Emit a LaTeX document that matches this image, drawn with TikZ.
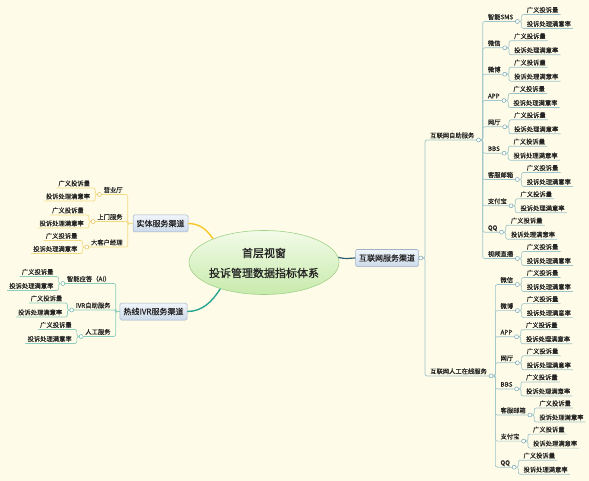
\documentclass[tikz,border=0pt]{standalone}
\usepackage{fontspec}
\setmainfont{Noto Sans CJK SC}
\newfontfamily\cjkbold[FakeBold=1]{Noto Sans CJK SC}
\newfontfamily\cjkmed[FakeBold=0.4]{Noto Sans CJK SC}
\usetikzlibrary{shapes.geometric}
\definecolor{bg}{RGB}{254,252,232}
\definecolor{txt}{RGB}{35,35,35}
\definecolor{ylwD}{RGB}{244,200,40}
\definecolor{ylwL}{RGB}{242,218,130}
\definecolor{ylwK}{RGB}{228,190,80}
\definecolor{tealD}{RGB}{40,165,145}
\definecolor{tealL}{RGB}{140,205,190}
\definecolor{tealK}{RGB}{100,185,165}
\definecolor{bluD}{RGB}{45,95,110}
\definecolor{bluL}{RGB}{160,198,204}
\definecolor{bluK}{RGB}{115,165,175}
\definecolor{boxB}{RGB}{160,178,200}
\definecolor{boxT}{RGB}{240,245,251}
\definecolor{boxM}{RGB}{205,218,234}
\definecolor{elT}{RGB}{242,251,232}
\definecolor{elB}{RGB}{200,234,172}
\definecolor{elD}{RGB}{160,210,135}
% right-hand child: name, parent point, spine coordinate, underline y, text, line style
\newcommand\rnode[6]{%
  \node[itm, anchor=south west, xshift=3pt] (#1) at (#3 |- 0,#4) {#5};
  \draw[#6] (#2) -| (#3 |- #1.south) -- (#1.south east);
}
\newcommand\rknob[2]{%
  \node[knob, draw=#2] (#1k) at ([xshift=2pt]#1.south east) {};
  \coordinate (#1s) at ([xshift=2pt]#1k.east);
}
\newcommand\rleaves[4]{%
  \rnode{#1a}{#1k.east}{#1s}{#2}{广义投诉量}{#4}
  \rnode{#1b}{#1k.east}{#1s}{#3}{投诉处理满意率}{#4}
}
% left-hand child
\newcommand\lnode[6]{%
  \node[itm, anchor=south east, xshift=-3pt] (#1) at (#3 |- 0,#4) {#5};
  \draw[#6] (#2) -| (#3 |- #1.south) -- (#1.south west);
}
\newcommand\lknob[2]{%
  \node[knob, draw=#2] (#1k) at ([xshift=-2pt]#1.south west) {};
  \coordinate (#1s) at ([xshift=-2pt]#1k.west);
}
\newcommand\lleaves[4]{%
  \lnode{#1a}{#1k.west}{#1s}{#2}{广义投诉量}{#4}
  \lnode{#1b}{#1k.west}{#1s}{#3}{投诉处理满意率}{#4}
}
\begin{document}
\begin{tikzpicture}[x=1pt,y=-1pt,
  itm/.style={font=\fontsize{6.3}{7}\selectfont\cjkmed, text=txt, inner xsep=2pt, inner ysep=1pt, text height=5pt, text depth=1pt},
  knob/.style={circle, fill=white, line width=0.5pt, inner sep=0pt, minimum size=4pt},
  yl/.style={draw=ylwL, line width=0.7pt, rounded corners=2pt},
  tl/.style={draw=tealL, line width=0.7pt, rounded corners=2pt},
  bl/.style={draw=bluL, line width=0.7pt, rounded corners=2pt},
  chan/.style={draw=boxB, line width=0.5pt, top color=boxT, bottom color=boxM, rounded corners=1.5pt, inner xsep=3.5pt, inner ysep=0pt, minimum height=17pt, font=\fontsize{8}{9}\selectfont\cjkmed, text=txt},
]
\fill[bg] (0,0) rectangle (589,481);
\useasboundingbox (0,0) rectangle (589,481);

% central topic
\node[ellipse, draw=elD, line width=0.6pt, top color=elT, bottom color=elB, minimum width=150pt, minimum height=64pt, inner sep=0pt] (c) at (264,262.5) {};
\node[font=\fontsize{11}{20}\selectfont\cjkbold, align=center, text=txt] (ct) at (264,263) {首层视窗\\投诉管理数据指标体系};

% main branches
\node[chan] (st) at (160.5,223.5) {实体服务渠道};
\node[chan] (hx) at (153.5,311.5) {热线IVR服务渠道};
\node[chan] (net) at (387,258) {互联网服务渠道};
\draw[draw=ylwD, line width=1.4pt] (c.155) .. controls (207,230) and (200,223.5) .. (st.east);
\draw[draw=tealD, line width=1.4pt] (c.211) .. controls (212,302) and (202,311.5) .. (hx.east);
\draw[draw=bluD, line width=1.2pt] (c.4) .. controls (346,259.5) and (350,258) .. (net.west);

% ===== 实体服务渠道 =====
\coordinate (sts) at ([xshift=-5pt]st.west);
\lnode{ya}{st.west}{sts}{194.5}{营业厅}{yl}\lknob{ya}{ylwK}
\lnode{yb}{st.west}{sts}{221.5}{上门服务}{yl}\lknob{yb}{ylwK}
\lnode{yc}{st.west}{sts}{247}{大客户经理}{yl}\lknob{yc}{ylwK}
\lleaves{ya}{188}{201}{yl}
\lleaves{yb}{215}{228}{yl}
\lleaves{yc}{240.5}{253.5}{yl}

% ===== 热线IVR服务渠道 =====
\coordinate (hxs) at ([xshift=-4pt]hx.west);
\lnode{ha}{hx.west}{hxs}{283.5}{智能应答（AI）}{tl}\lknob{ha}{tealK}
\lnode{hb}{hx.west}{hxs}{310}{IVR自助服务}{tl}\lknob{hb}{tealK}
\lnode{hc}{hx.west}{hxs}{336.5}{人工服务}{tl}\lknob{hc}{tealK}
\lleaves{ha}{276.5}{290.5}{tl}
\lleaves{hb}{303}{317}{tl}
\lleaves{hc}{329.5}{343.5}{tl}

% ===== 互联网服务渠道 =====
\node[knob, draw=bluK] (netk) at ([xshift=2pt]net.east) {};
\coordinate (nets) at ([xshift=2pt]netk.east);
\rnode{self}{netk.east}{nets}{140}{互联网自助服务}{bl}\rknob{self}{bluK}
\rnode{man}{netk.east}{nets}{375.9}{互联网人工在线服务}{bl}\rknob{man}{bluK}

\rnode{sa}{selfk.east}{selfs}{21.5}{智能SMS}{bl}\rknob{sa}{bluK}\rleaves{sa}{14.5}{28.5}{bl}
\rnode{sb}{selfk.east}{selfs}{47.8}{微信}{bl}\rknob{sb}{bluK}\rleaves{sb}{40.8}{54.8}{bl}
\rnode{sc}{selfk.east}{selfs}{74.2}{微博}{bl}\rknob{sc}{bluK}\rleaves{sc}{67.2}{81.2}{bl}
\rnode{sd}{selfk.east}{selfs}{100.5}{APP}{bl}\rknob{sd}{bluK}\rleaves{sd}{93.5}{107.5}{bl}
\rnode{se}{selfk.east}{selfs}{126.8}{网厅}{bl}\rknob{se}{bluK}\rleaves{se}{119.8}{133.8}{bl}
\rnode{sf}{selfk.east}{selfs}{153.2}{BBS}{bl}\rknob{sf}{bluK}\rleaves{sf}{146.2}{160.2}{bl}
\rnode{sg}{selfk.east}{selfs}{179.5}{客服邮箱}{bl}\rknob{sg}{bluK}\rleaves{sg}{172.5}{186.5}{bl}
\rnode{sh}{selfk.east}{selfs}{205.8}{支付宝}{bl}\rknob{sh}{bluK}\rleaves{sh}{198.8}{212.8}{bl}
\rnode{si}{selfk.east}{selfs}{232.2}{QQ}{bl}\rknob{si}{bluK}\rleaves{si}{225.2}{239.2}{bl}
\rnode{sj}{selfk.east}{selfs}{258.5}{视频直播}{bl}\rknob{sj}{bluK}\rleaves{sj}{251.5}{265.5}{bl}

\rnode{ma}{mank.east}{mans}{284.5}{微信}{bl}\rknob{ma}{bluK}\rleaves{ma}{277.5}{291.5}{bl}
\rnode{mb}{mank.east}{mans}{310.6}{微博}{bl}\rknob{mb}{bluK}\rleaves{mb}{303.6}{317.6}{bl}
\rnode{mc}{mank.east}{mans}{336.7}{APP}{bl}\rknob{mc}{bluK}\rleaves{mc}{329.7}{343.7}{bl}
\rnode{md}{mank.east}{mans}{362.8}{网厅}{bl}\rknob{md}{bluK}\rleaves{md}{355.8}{369.8}{bl}
\rnode{me}{mank.east}{mans}{388.9}{BBS}{bl}\rknob{me}{bluK}\rleaves{me}{381.9}{395.9}{bl}
\rnode{mf}{mank.east}{mans}{415}{客服邮箱}{bl}\rknob{mf}{bluK}\rleaves{mf}{408}{422}{bl}
\rnode{mg}{mank.east}{mans}{441.1}{支付宝}{bl}\rknob{mg}{bluK}\rleaves{mg}{434.1}{448.1}{bl}
\rnode{mh}{mank.east}{mans}{467.2}{QQ}{bl}\rknob{mh}{bluK}\rleaves{mh}{460.2}{474.2}{bl}
\end{tikzpicture}
\end{document}
